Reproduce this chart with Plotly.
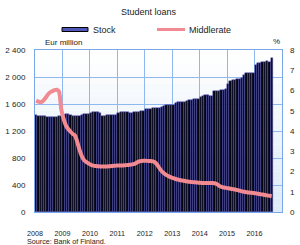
import plotly.graph_objects as go

years = [2008, 2009, 2010, 2011, 2012, 2013, 2014, 2015, 2016]
year_labels = [str(y) for y in years]

stock = [
    # 2008
    1430, 1428, 1425, 1420, 1415, 1412, 1410, 1408, 1410, 1412, 1415, 1418,
    # 2009
    1440, 1448, 1445, 1430, 1425, 1428, 1425, 1420, 1430, 1445, 1450, 1452,
    # 2010
    1470, 1478, 1478, 1475, 1472, 1415, 1420, 1430, 1432, 1435, 1435, 1440,
    # 2011
    1470, 1478, 1480, 1478, 1475, 1470, 1465, 1480, 1485, 1488, 1490, 1500,
    # 2012
    1525, 1530, 1532, 1535, 1535, 1538, 1540, 1560, 1575, 1580, 1582, 1585,
    # 2013
    1590, 1610, 1628, 1630, 1632, 1635, 1640, 1660, 1665, 1668, 1672, 1680,
    # 2014
    1700, 1720, 1740, 1740, 1712, 1715, 1788, 1790, 1800, 1810, 1813, 1815,
    # 2015
    1900, 1945, 1950, 1955, 1970, 1975, 1980, 2030, 2055, 2060, 2062, 2065,
    # 2016
    2180, 2205, 2210, 2220, 2225, 2237, 2222, 2285,
]

middle_rate = [
    # 2008
    5.50, 5.45, 5.42, 5.48, 5.62, 5.78, 5.90, 5.96, 6.02, 6.04, 5.95, 5.05,
    # 2009
    4.60, 4.28, 4.10, 3.97, 3.85, 3.78, 3.45, 3.05, 2.75, 2.56, 2.46, 2.39,
    # 2010
    2.33, 2.29, 2.27, 2.26, 2.25, 2.25, 2.25, 2.25, 2.26, 2.27, 2.28, 2.29,
    # 2011
    2.30, 2.30, 2.30, 2.31, 2.32, 2.33, 2.35, 2.38, 2.44, 2.50, 2.52, 2.53,
    # 2012
    2.53, 2.52, 2.52, 2.50, 2.45, 2.32, 2.15, 2.00, 1.90, 1.82, 1.76, 1.71,
    # 2013
    1.67, 1.63, 1.60, 1.57, 1.55, 1.53, 1.51, 1.49, 1.48, 1.47, 1.46, 1.45,
    # 2014
    1.44, 1.43, 1.43, 1.43, 1.43, 1.43, 1.42, 1.38, 1.30, 1.24, 1.21, 1.19,
    # 2015
    1.17, 1.15, 1.13, 1.11, 1.08, 1.05, 1.02, 1.00, 0.98, 0.96, 0.95, 0.94,
    # 2016
    0.92, 0.90, 0.88, 0.86, 0.84, 0.82, 0.80, 0.78,
]

months = [2008 + (i + 0.5) / 12 for i in range(len(stock))]

left_vals = [0, 400, 800, 1200, 1600, 2000, 2400]
left_text = ["0", "400", "800", "1 200", "1 600", "2 000", "2 400"]
right_vals = [0, 1, 2, 3, 4, 5, 6, 7, 8]

FONT = "Liberation Sans, Arial, sans-serif"
TXT = "#222222"
GRID = "#8fb8f0"
FRAME = "#7aa6ea"
PINK = "#f28a92"

fig = go.Figure()
fig.add_trace(go.Bar(
    x=months, y=stock, width=1 / 12, name="Stock",
    marker=dict(color="#050510", line=dict(color="#5a5ad0", width=0.45)),
    yaxis="y",
))
fig.add_trace(go.Scatter(
    x=months, y=middle_rate, name="Middlerate", mode="lines",
    line=dict(color=PINK, width=4, shape="spline", smoothing=0.6),
    yaxis="y2",
))

# gradient background of plot area
shapes = []
n = 24
for i in range(n):
    t = i / (n - 1)
    r = int(255 + (222 - 255) * (1 - t))
    g = int(255 + (235 - 255) * (1 - t))
    b = int(255 + (249 - 255) * (1 - t))
    shapes.append(dict(type="rect", xref="x domain", yref="y domain",
                       x0=0, x1=1, y0=i / n, y1=(i + 1) / n,
                       fillcolor=f"rgb({r},{g},{b})", line=dict(width=0),
                       layer="below"))

def px(x):
    return (x - 35) / 247

def py(y):
    return (212 - y) / 162

# legend symbols
shapes.append(dict(type="rect", xref="paper", yref="paper",
                   x0=px(62), x1=px(88), y0=py(31.5), y1=py(27.5),
                   fillcolor="#4f58b8", line=dict(color="#000000", width=1)))
shapes.append(dict(type="line", xref="paper", yref="paper",
                   x0=px(157), x1=px(185), y0=py(29.5), y1=py(29.5),
                   line=dict(color=PINK, width=3)))

annotations = [
    dict(text="Student loans", x=px(148.5), y=py(11.5), xref="paper", yref="paper",
         showarrow=False, xanchor="center", yanchor="middle",
         font=dict(size=9, color=TXT, family=FONT)),
    dict(text="Stock", x=px(91), y=py(29.5), xref="paper", yref="paper",
         showarrow=False, xanchor="left", yanchor="middle",
         font=dict(size=9, color=TXT, family=FONT)),
    dict(text="Middlerate", x=px(187), y=py(29.5), xref="paper", yref="paper",
         showarrow=False, xanchor="left", yanchor="middle",
         font=dict(size=9, color=TXT, family=FONT)),
    dict(text="Eur million", x=px(42.5), y=py(42), xref="paper", yref="paper",
         showarrow=False, xanchor="left", yanchor="middle",
         font=dict(size=8, color=TXT, family=FONT)),
    dict(text="%", x=px(281.5), y=py(41.5), xref="paper", yref="paper",
         showarrow=False, xanchor="right", yanchor="middle",
         font=dict(size=8, color=TXT, family=FONT)),
    dict(text="Source: Bank of Finland.", x=px(25), y=py(241.3), xref="paper", yref="paper",
         showarrow=False, xanchor="left", yanchor="middle",
         font=dict(size=7.2, color=TXT, family=FONT)),
]

fig.update_layout(
    width=300, height=245,
    margin=dict(l=35, r=18, t=50, b=33, pad=0),
    paper_bgcolor="white", plot_bgcolor="rgba(0,0,0,0)",
    showlegend=False, bargap=0,
    font=dict(family=FONT, size=8, color=TXT),
    shapes=shapes, annotations=annotations,
    xaxis=dict(range=[2008, 2017], tickvals=years, ticktext=year_labels,
               showgrid=True, gridcolor=GRID, gridwidth=1,
               showline=True, linecolor=FRAME, linewidth=1, mirror=True,
               ticks="", ticklabelstandoff=14, zeroline=False, automargin=False,
               tickfont=dict(size=7.2, color=TXT, family=FONT)),
    yaxis=dict(range=[0, 2400], tickvals=left_vals, ticktext=left_text,
               showgrid=True, gridcolor=GRID, gridwidth=1,
               showline=True, linecolor=FRAME, linewidth=1, mirror=True,
               ticks="", ticklabelstandoff=7, zeroline=False, automargin=False,
               tickfont=dict(size=8, color=TXT, family=FONT)),
    yaxis2=dict(range=[0, 8], tickvals=right_vals, overlaying="y", side="right",
                showgrid=False, showline=False, zeroline=False, automargin=False,
                ticks="", ticklabelstandoff=7,
                tickfont=dict(size=8, color=TXT, family=FONT)),
)

fig.write_html("out.html")
